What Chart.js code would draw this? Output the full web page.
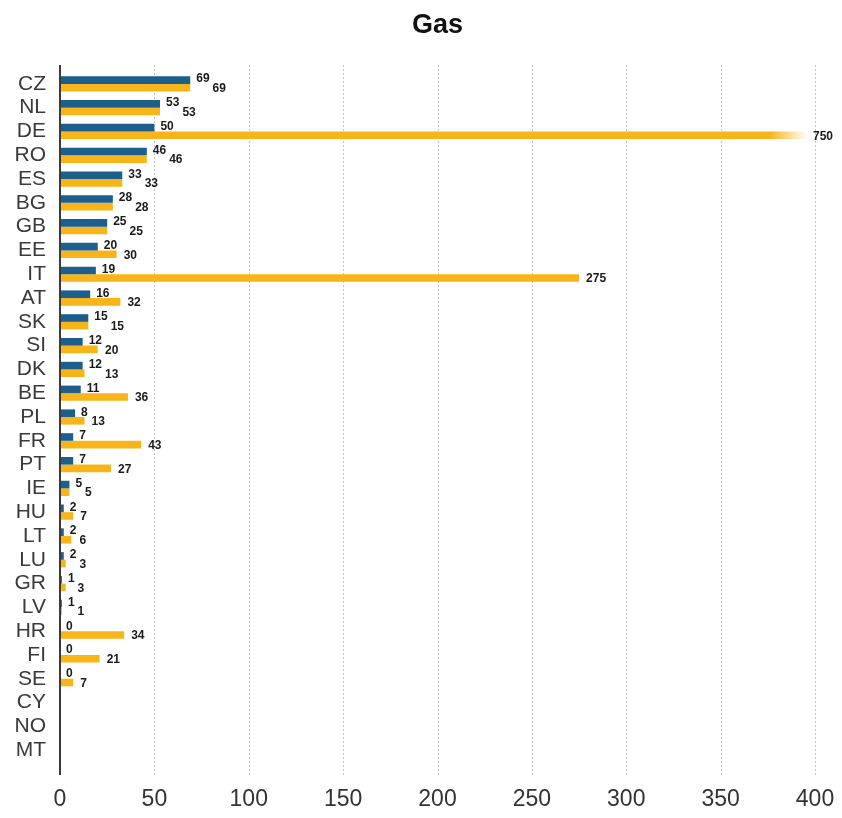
<!DOCTYPE html>
<html>
<head>
<meta charset="utf-8">
<script src="https://cdn.jsdelivr.net/npm/chart.js@4/dist/chart.umd.min.js"></script>
<style>
  html, body { margin: 0; padding: 0; background: #ffffff; }
  #wrap { width: 842px; height: 818px; position: relative; }
</style>
</head>
<body>
<div id="wrap"><canvas id="c"></canvas></div>
<script>
const categories = ['CZ','NL','DE','RO','ES','BG','GB','EE','IT','AT','SK','SI','DK','BE','PL','FR','PT','IE','HU','LT','LU','GR','LV','HR','FI','SE','CY','NO','MT'];
const seriesBlue  = [69, 53, 50, 46, 33, 28, 25, 20, 19, 16, 15, 12, 12, 11, 8, 7, 7, 5, 2, 2, 2, 1, 1, 0, 0, 0, null, null, null];
const seriesAmber = [69, 53, 750, 46, 33, 28, 25, 30, 275, 32, 15, 20, 13, 36, 13, 43, 27, 5, 7, 6, 3, 3, 1, 34, 21, 7, null, null, null];
const xTickMin = 0;
const xTickMax = 400;
const xTickStep = 50;

const FONT = '"Liberation Sans", Arial, Helvetica, sans-serif';
const BLUE = '#1c5f8c';
const AMBER = '#f8b519';

function amberFill(ctx) {
  const chart = ctx.chart;
  const area = chart.chartArea;
  const v = ctx.raw;
  if (!area || v == null) return AMBER;
  const xs = chart.scales.x;
  if (v <= xs.max) return AMBER;
  const x0 = xs.getPixelForValue(xs.max * 0.94);
  const x1 = xs.getPixelForValue(xs.max * 0.99);
  const g = chart.ctx.createLinearGradient(x0, 0, x1, 0);
  g.addColorStop(0, 'rgba(248,181,25,1)');
  g.addColorStop(1, 'rgba(248,181,25,0)');
  return g;
}

const gridPlugin = {
  id: 'extGrid',
  beforeDatasetsDraw(chart) {
    const { ctx, chartArea } = chart;
    const xs = chart.scales.x;
    const top = chartArea.top - 7, bottom = chartArea.bottom + 13;
    ctx.save();
    ctx.strokeStyle = '#c4c4c4';
    ctx.lineWidth = 1;
    ctx.setLineDash([2, 2]);
    xs.ticks.forEach(t => {
      if (t.value === xTickMin) return;
      const x = Math.round(xs.getPixelForValue(t.value)) + 0.5;
      ctx.beginPath(); ctx.moveTo(x, top); ctx.lineTo(x, bottom); ctx.stroke();
    });
    ctx.restore();
  },
  afterDatasetsDraw(chart) {
    const { ctx, chartArea } = chart;
    const xs = chart.scales.x;
    const top = chartArea.top - 7, bottom = chartArea.bottom + 13;
    const x = xs.getPixelForValue(xTickMin);
    ctx.save();
    ctx.strokeStyle = '#3a3a3a';
    ctx.lineWidth = 2;
    ctx.beginPath(); ctx.moveTo(x, top); ctx.lineTo(x, bottom); ctx.stroke();
    ctx.restore();
  }
};

const labelPlugin = {
  id: 'valLabels',
  afterDraw(chart) {
    const { ctx, chartArea } = chart;
    const mBlue = chart.getDatasetMeta(0);
    const mAmber = chart.getDatasetMeta(1);
    ctx.save();
    ctx.font = 'bold 12px ' + FONT;
    ctx.fillStyle = '#1a1a1a';
    ctx.textBaseline = 'middle';
    ctx.textAlign = 'left';
    categories.forEach((c, i) => {
      const vb = seriesBlue[i], va = seriesAmber[i];
      let blueEnd = -Infinity;
      if (vb != null) {
        const el = mBlue.data[i];
        const bx = Math.min(el.x, chartArea.right) + 6;
        const t = String(vb);
        ctx.fillText(t, bx, el.y - 1);
        blueEnd = bx + ctx.measureText(t).width;
      }
      if (va != null) {
        const el = mAmber.data[i];
        let ax;
        if (el.x > chartArea.right) ax = chartArea.right - 2;
        else ax = Math.max(el.x + 7, blueEnd + 3);
        ctx.fillText(String(va), ax, el.y + 1);
      }
    });
    ctx.restore();
  }
};

new Chart(document.getElementById('c'), {
  type: 'bar',
  data: {
    labels: categories,
    datasets: [
      { label: 'A', data: seriesBlue, backgroundColor: BLUE, borderWidth: 0,
        categoryPercentage: 0.64, barPercentage: 1.0 },
      { label: 'B', data: seriesAmber, backgroundColor: amberFill, borderWidth: 0,
        categoryPercentage: 0.64, barPercentage: 1.0 }
    ]
  },
  options: {
    indexAxis: 'y',
    responsive: true,
    maintainAspectRatio: false,
    animation: false,
    layout: { padding: { left: 0, right: 27, top: 0, bottom: 0 } },
    plugins: {
      legend: { display: false },
      tooltip: { enabled: false },
      title: {
        display: true,
        text: 'Gas',
        fullSize: false,
        color: '#111111',
        font: { family: FONT, size: 27, weight: 'bold', lineHeight: 1.2 },
        padding: { top: 9, bottom: 30.6 }
      }
    },
    scales: {
      x: {
        type: 'linear',
        position: 'bottom',
        min: xTickMin,
        max: xTickMax,
        grid: { display: false, drawTicks: false },
        border: { display: false },
        ticks: {
          stepSize: xTickStep,
          color: '#333333',
          padding: 0,
          maxRotation: 0,
          font: { family: FONT, size: 23, lineHeight: 3.3 }
        },
        afterFit(scale) { scale.height = 56; }
      },
      y: {
        type: 'category',
        offset: true,
        grid: { display: false, drawTicks: false },
        border: { display: false },
        ticks: {
          color: '#3a3a3a',
          padding: 14,
          autoSkip: false,
          font: { family: FONT, size: 21, lineHeight: 1.2 }
        },
        afterFit(scale) { scale.width = 60; }
      }
    }
  },
  plugins: [gridPlugin, labelPlugin]
});
</script>
</body>
</html>
